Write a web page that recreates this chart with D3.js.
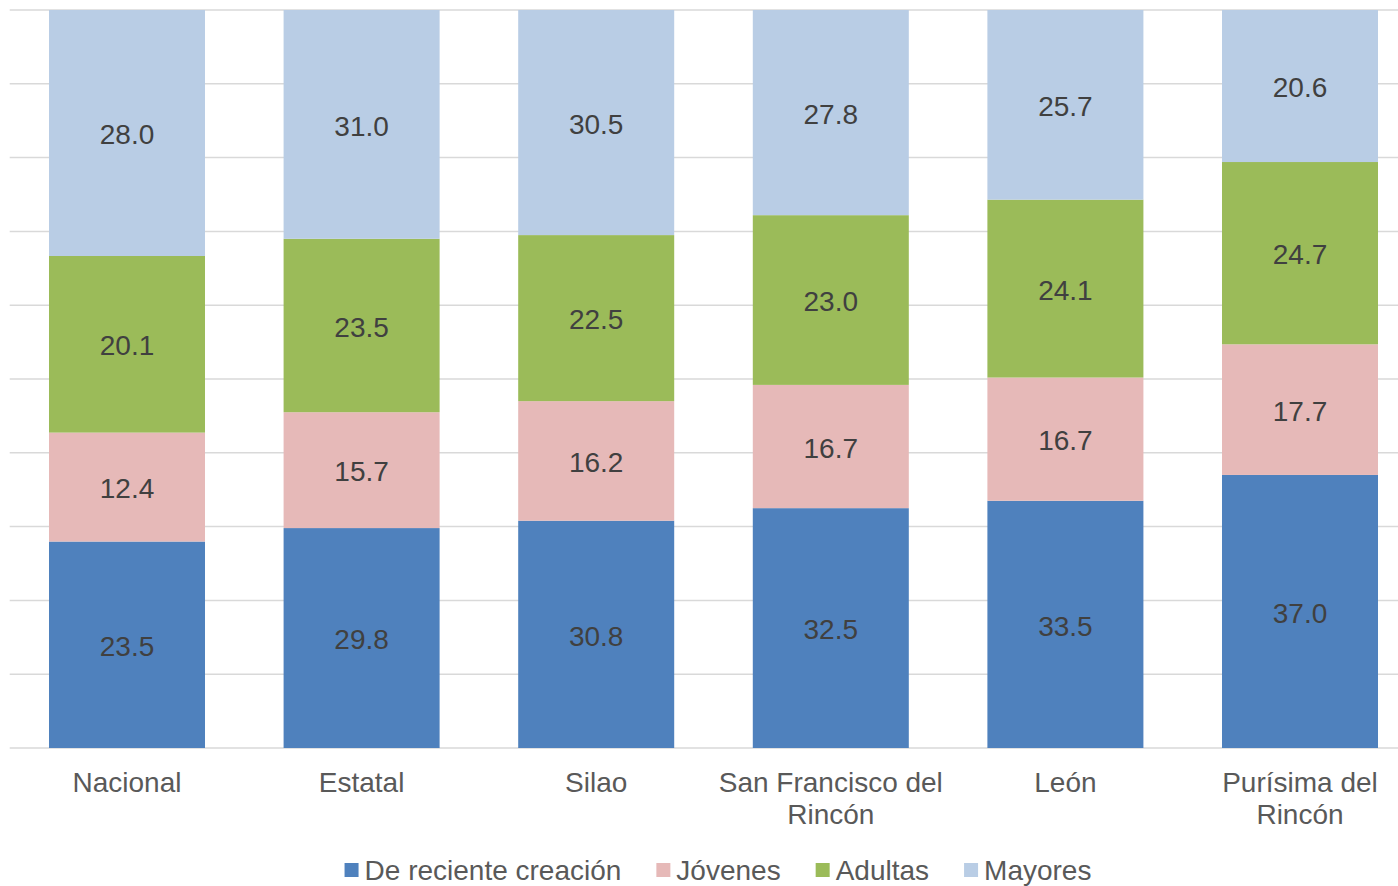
<!DOCTYPE html>
<html>
<head>
<meta charset="utf-8">
<script src="https://cdn.jsdelivr.net/npm/d3@7/dist/d3.min.js"></script>
<style>
  html, body { margin: 0; padding: 0; background: #fff; }
  svg { display: block; font-family: "Liberation Sans", Arial, sans-serif; }
</style>
</head>
<body>
<svg id="chart" width="1398" height="886"></svg>
<script>
const categories = ["Nacional", "Estatal", "Silao", "San Francisco del Rincón", "León", "Purísima del Rincón"];
const categoryLines = [["Nacional"], ["Estatal"], ["Silao"], ["San Francisco del", "Rincón"], ["León"], ["Purísima del", "Rincón"]];
const seriesNames = ["De reciente creación", "Jóvenes", "Adultas", "Mayores"];
const deRecienteCreacion = [23.5, 29.8, 30.8, 32.5, 33.5, 37.0];
const jovenes = [12.4, 15.7, 16.2, 16.7, 16.7, 17.7];
const adultas = [20.1, 23.5, 22.5, 23.0, 24.1, 24.7];
const mayores = [28.0, 31.0, 30.5, 27.8, 25.7, 20.6];
const colors = ["#4F81BD", "#E6B9B8", "#9BBB59", "#B9CDE5"];
const gridTicks = [0, 0.1, 0.2, 0.3, 0.4, 0.5, 0.6, 0.7, 0.8, 0.9, 1.0];

const seriesValues = [deRecienteCreacion, jovenes, adultas, mayores];
const rows = categories.map((c, i) => {
  const r = { cat: c };
  seriesNames.forEach((s, j) => r[s] = seriesValues[j][i]);
  return r;
});

const svg = d3.select("#chart");
const plot = { left: 9.7, right: 1417.3, top: 10, bottom: 748 };

const x = d3.scaleBand().domain(categories).range([plot.left, plot.right])
  .paddingInner(0.335).paddingOuter(0.1675);
const y = d3.scaleLinear().domain([0, 1]).range([plot.bottom, plot.top]);

const stack = d3.stack().keys(seriesNames).offset(d3.stackOffsetExpand);
const stacked = stack(rows);

// gridlines
svg.append("g").selectAll("line").data(gridTicks).join("line")
  .attr("x1", plot.left).attr("x2", 1398)
  .attr("y1", d => y(d)).attr("y2", d => y(d))
  .attr("stroke", "#D9D9D9").attr("stroke-width", 1.5);

// bars
const layers = svg.append("g").selectAll("g").data(stacked).join("g")
  .attr("fill", (d, i) => colors[i]);
layers.selectAll("rect").data(d => d).join("rect")
  .attr("x", d => x(d.data.cat))
  .attr("width", x.bandwidth())
  .attr("y", d => y(d[1]))
  .attr("height", d => y(d[0]) - y(d[1]));

// value labels
const labels = svg.append("g");
stacked.forEach((layer, si) => {
  labels.selectAll(null).data(layer).join("text")
    .attr("x", d => x(d.data.cat) + x.bandwidth() / 2)
    .attr("y", d => (y(d[0]) + y(d[1])) / 2)
    .attr("dy", "0.4em")
    .attr("text-anchor", "middle")
    .attr("font-size", 28)
    .attr("fill", "#404040")
    .text(d => d.data[layer.key].toFixed(1));
});

// category labels
const catG = svg.append("g");
categories.forEach((c, i) => {
  const t = catG.append("text")
    .attr("x", x(c) + x.bandwidth() / 2)
    .attr("y", 792)
    .attr("text-anchor", "middle")
    .attr("font-size", 28)
    .attr("fill", "#595959");
  categoryLines[i].forEach((ln, k) => {
    t.append("tspan").attr("x", x(c) + x.bandwidth() / 2).attr("dy", k === 0 ? 0 : 32).text(ln);
  });
});

// legend
const legend = svg.append("g");
const items = seriesNames.map((s, i) => {
  const g = legend.append("g");
  g.append("rect").attr("width", 14).attr("height", 14).attr("y", -7).attr("fill", colors[i]);
  const t = g.append("text").attr("x", 20).attr("dy", "0.36em")
    .attr("font-size", 28).attr("fill", "#595959").text(s);
  return { g, w: 20 + t.node().getComputedTextLength() };
});
const gap = 35;
const total = d3.sum(items, d => d.w) + gap * (items.length - 1);
let cx = 718 - total / 2;
items.forEach(it => {
  it.g.attr("transform", `translate(${cx},870)`);
  cx += it.w + gap;
});
</script>
</body>
</html>
